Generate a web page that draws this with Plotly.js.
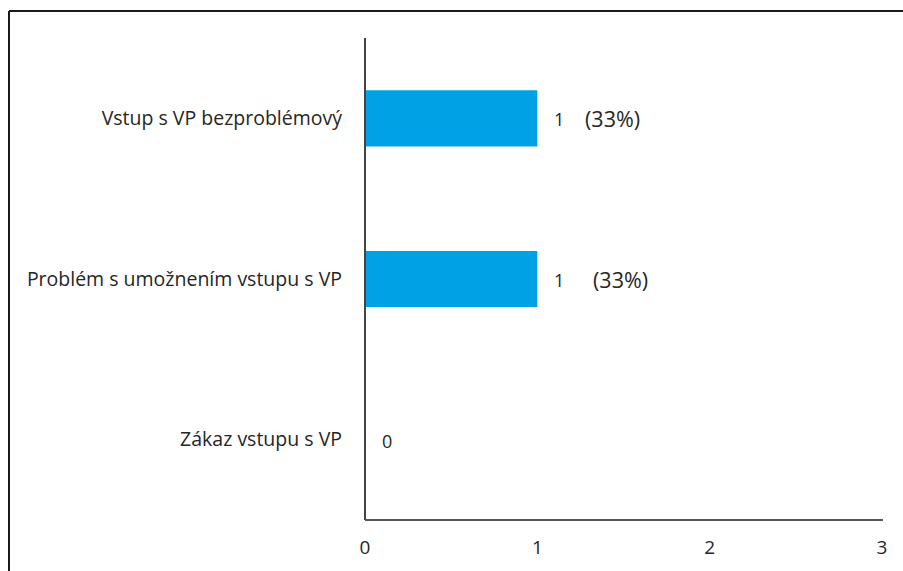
<!DOCTYPE html>
<html>
<head>
<meta charset="utf-8">
<script src="https://cdn.plot.ly/plotly-3.0.1.min.js"></script>
<style>
html,body{margin:0;padding:0;background:#fff;}
#chart{width:903px;height:571px;}
</style>
</head>
<body>
<div id="chart"></div>
<script>
// Data
const categories = ["Vstup s VP bezproblémový", "Problém s umožnením vstupu s VP", "Zákaz vstupu s VP"];
const counts = [1, 1, 0];
const pctLabels = ["(33%)", "(33%)", ""];
const pctShift = [46, 54, 0];
const xTicks = [0, 1, 2, 3];

const W = 903, H = 571;
const M = {l: 365, r: 21, t: 38, b: 51};
const pw = W - M.l - M.r, ph = H - M.t - M.b;
const px = v => (v - M.l) / pw;
const py = v => 1 - (v - M.t) / ph;

const fontFam = "'Open Sans', 'Noto Sans', sans-serif";
const txtColor = "#262626";

const trace = {
  type: "bar",
  orientation: "h",
  y: categories,
  x: counts,
  width: 0.35,
  marker: {color: "#00a2e6"},
  hoverinfo: "none"
};

const annotations = [];
categories.forEach((c, i) => {
  annotations.push({
    x: counts[i], y: c, xref: "x", yref: "y",
    text: String(counts[i]), showarrow: false,
    xanchor: "left", yanchor: "middle", xshift: 15, yshift: -1,
    font: {family: fontFam, size: 18, color: txtColor}
  });
  if (pctLabels[i]) {
    annotations.push({
      x: counts[i], y: c, xref: "x", yref: "y",
      text: pctLabels[i], showarrow: false,
      xanchor: "left", yanchor: "middle", xshift: pctShift[i], yshift: 0,
      font: {family: fontFam, size: 21.5, color: txtColor}
    });
  }
});

const layout = {
  width: W, height: H,
  margin: M,
  paper_bgcolor: "#fff",
  plot_bgcolor: "#fff",
  showlegend: false,
  font: {family: fontFam, color: txtColor},
  xaxis: {
    range: [0, 3],
    tickvals: xTicks,
    ticktext: xTicks.map(String),
    showgrid: false,
    zeroline: false,
    showline: false,
    ticks: "",
    ticklabelstandoff: 14,
    tickfont: {family: fontFam, size: 19, color: txtColor},
    fixedrange: true
  },
  yaxis: {
    type: "category",
    autorange: "reversed",
    showgrid: false,
    zeroline: false,
    showline: false,
    ticks: "",
    ticklabelstandoff: 22,
    tickfont: {family: fontFam, size: 19.5, color: txtColor},
    fixedrange: true
  },
  annotations: annotations,
  shapes: [
    // outer frame (left and top edges)
    {type: "line", xref: "paper", yref: "paper", x0: px(9), x1: px(9), y0: py(11), y1: py(600), line: {color: "#1a1a1a", width: 2}},
    {type: "line", xref: "paper", yref: "paper", x0: px(9), x1: px(910), y0: py(11), y1: py(11), line: {color: "#1a1a1a", width: 2}},
    // axis lines
    {type: "line", xref: "paper", yref: "paper", x0: 0, x1: 0, y0: 0, y1: 1, line: {color: "#444", width: 2}},
    {type: "line", xref: "paper", yref: "paper", x0: 0, x1: px(883), y0: 0, y1: 0, line: {color: "#555", width: 2}}
  ]
};

Plotly.newPlot("chart", [trace], layout, {displayModeBar: false, staticPlot: true});
</script>
</body>
</html>
